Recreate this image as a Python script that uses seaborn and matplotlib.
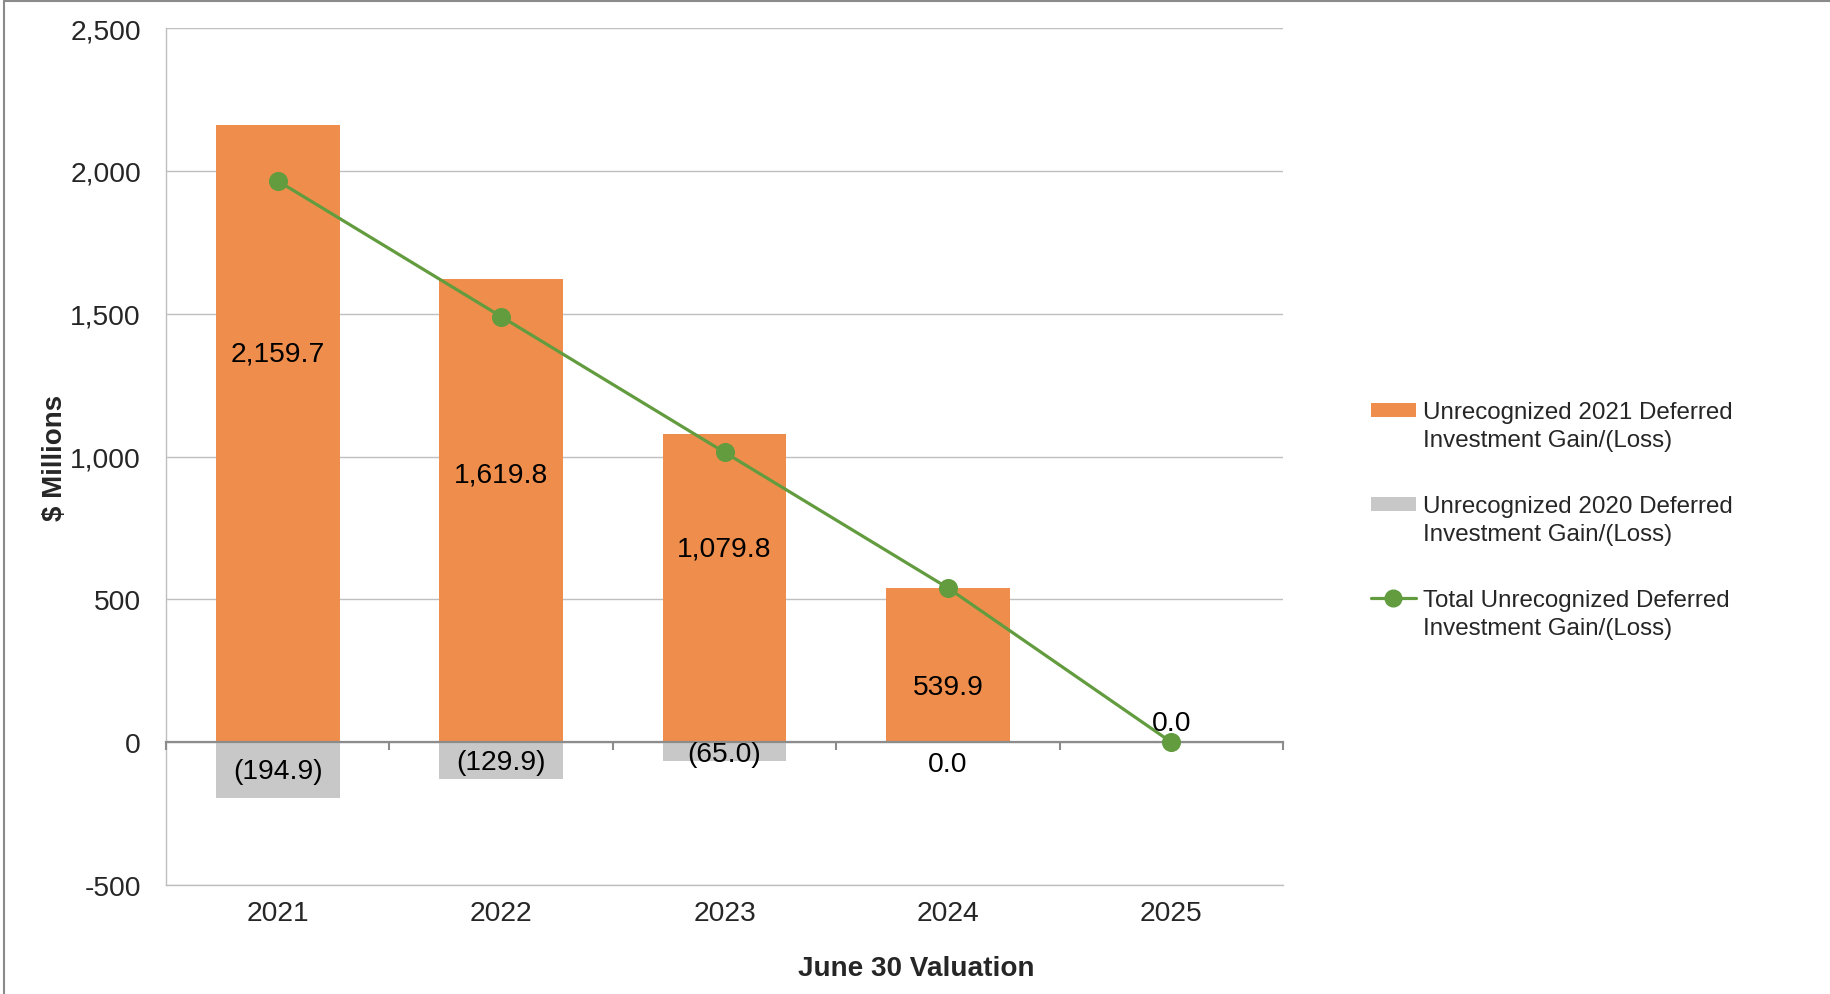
import matplotlib
matplotlib.use("Agg")
import matplotlib.pyplot as plt
import seaborn as sns
from matplotlib.artist import Artist
from matplotlib.patches import Patch
from matplotlib.lines import Line2D
from matplotlib.legend_handler import HandlerPatch, HandlerLine2D
from matplotlib.ticker import FuncFormatter
from matplotlib.transforms import Affine2D

# ---- data ($ millions) ----
YEARS = ["2021", "2022", "2023", "2024", "2025"]
DEFERRED_2021 = [2159.7, 1619.8, 1079.8, 539.9, 0.0]
DEFERRED_2020 = [-194.9, -129.9, -65.0, 0.0, 0.0]
TOTAL = [1964.8, 1489.9, 1014.8, 539.9, 0.0]

SERIES_NAMES = [
    "Unrecognized 2021 Deferred\nInvestment Gain/(Loss)",
    "Unrecognized 2020 Deferred\nInvestment Gain/(Loss)",
    "Total Unrecognized Deferred\nInvestment Gain/(Loss)",
]
Y_TICKS = [-500, 0, 500, 1000, 1500, 2000, 2500]

# where the value labels sit inside the bars (data units)
LABEL_AT_2021 = [1362, 938, 679, 193]
LABEL_AT_2020 = [-100, -68, -40, -78]

ORANGE = "#EF8E4C"
GREY = "#C8C8C8"
GREEN = "#629C3F"
GRID = "#BFBFBF"
AXIS = "#8C8C8C"
FS = 20.3


def fmt_val(v):
    if v < 0:
        return f"({abs(v):,.1f})"
    return f"{v:,.1f}"


sns.set_style("white")
plt.rcParams["font.family"] = ["Liberation Sans", "DejaVu Sans"]
plt.rcParams["axes.unicode_minus"] = False

fig = plt.figure(figsize=(18.3, 9.95), dpi=100)
ax = fig.add_axes([166 / 1830, 1 - 886 / 995, (1283 - 166) / 1830, (886 - 29) / 995])

sns.barplot(x=YEARS, y=DEFERRED_2021, color=ORANGE, saturation=1, width=0.555,
            linewidth=0, ax=ax, zorder=2)
sns.barplot(x=YEARS, y=DEFERRED_2020, color=GREY, saturation=1, width=0.555,
            linewidth=0, ax=ax, zorder=2)
sns.pointplot(x=YEARS, y=TOTAL, color=GREEN, markers="o", linestyles="-",
              errorbar=None, markersize=12, linewidth=2.3, ax=ax, zorder=6)

ax.set_xlim(-0.5, len(YEARS) - 0.5)
ax.set_ylim(-500, 2500)
ax.set_yticks(Y_TICKS)
ax.yaxis.set_major_formatter(FuncFormatter(lambda v, p: f"{v:,.0f}"))
ax.yaxis.grid(True, color=GRID, linewidth=1.0)
ax.set_axisbelow(True)

for side in ("top", "right"):
    ax.spines[side].set_visible(False)
for side in ("left", "bottom"):
    ax.spines[side].set_color(GRID)
    ax.spines[side].set_linewidth(1.0)

ax.tick_params(axis="y", length=6, width=1.0, color=GRID, pad=12, labelsize=FS)
ax.tick_params(axis="x", length=0, pad=11, labelsize=FS)

ax.set_xlabel("June 30 Valuation", fontsize=20.1, fontweight="bold")
ax.xaxis.set_label_coords(0.6714, -0.082)
ax.set_ylabel("$ Millions", fontsize=20, fontweight="bold")
ax.yaxis.set_label_coords(-0.0876, 0.5)

# zero line with category-boundary ticks
zero_axis = ax.secondary_xaxis(500 / 3000)
zero_axis.set_xticks([i - 0.5 for i in range(len(YEARS) + 1)], labels=[""] * (len(YEARS) + 1))
zero_axis.tick_params(length=6, width=1.5, color=AXIS, direction="out")
zero_axis.spines["bottom"].set_color(AXIS)
zero_axis.spines["bottom"].set_linewidth(1.6)
zero_axis.set_zorder(4)

# value labels
for i, (v, y) in enumerate(zip(DEFERRED_2021[:4], LABEL_AT_2021)):
    ax.text(i, y, fmt_val(v), ha="center", va="center", fontsize=FS, color="black", zorder=7)
for i, (v, y) in enumerate(zip(DEFERRED_2020[:4], LABEL_AT_2020)):
    ax.text(i, y, fmt_val(v), ha="center", va="center", fontsize=FS, color="black", zorder=7)
ax.annotate(fmt_val(TOTAL[-1]), (len(YEARS) - 1, TOTAL[-1]), xytext=(0, 14),
            textcoords="offset points", ha="center", va="center", fontsize=FS,
            color="black", zorder=7)


class RaisedHandler:
    """Draw a legend key level with the first line of a two-line label."""

    def __init__(self, base, shift):
        self.base = base
        self.shift = shift

    def legend_artist(self, legend, orig_handle, fontsize, handlebox):
        artist = self.base.legend_artist(legend, orig_handle, fontsize, handlebox)
        for child in handlebox.get_children():
            base_t = Artist.get_transform(child)
            child.set_transform(Affine2D().translate(0, self.shift) + base_t)
        return artist


h_2021 = Patch(facecolor=ORANGE, edgecolor="none")
h_2020 = Patch(facecolor=GREY, edgecolor="none")
h_total = Line2D([], [], color=GREEN, marker="o", linewidth=2.3, markersize=12)
LEG_FS = 17.4
shift = 11.5
leg = ax.legend(
    [h_2021, h_2020, h_total], SERIES_NAMES,
    handler_map={
        h_2021: RaisedHandler(HandlerPatch(), shift),
        h_2020: RaisedHandler(HandlerPatch(), shift),
        h_total: RaisedHandler(HandlerLine2D(), shift),
    },
    loc="upper left", bbox_to_anchor=(1371 / 1830, 1 - 402 / 995),
    bbox_transform=fig.transFigure, frameon=False, fontsize=LEG_FS,
    handlelength=1.85, handleheight=0.55, handletextpad=0.3,
    labelspacing=1.82, borderpad=0, borderaxespad=0,
)
for t in leg.get_texts():
    t.set_linespacing(1.35)

# outer frame
fig.add_artist(Line2D([3.5 / 1830, 1], [1 - 1.5 / 995, 1 - 1.5 / 995],
                      transform=fig.transFigure, color="#8A8A8A", linewidth=1.5))
fig.add_artist(Line2D([3.5 / 1830, 3.5 / 1830], [0, 1 - 1.5 / 995],
                      transform=fig.transFigure, color="#8A8A8A", linewidth=1.5))

fig.savefig("out.png", dpi=100)
